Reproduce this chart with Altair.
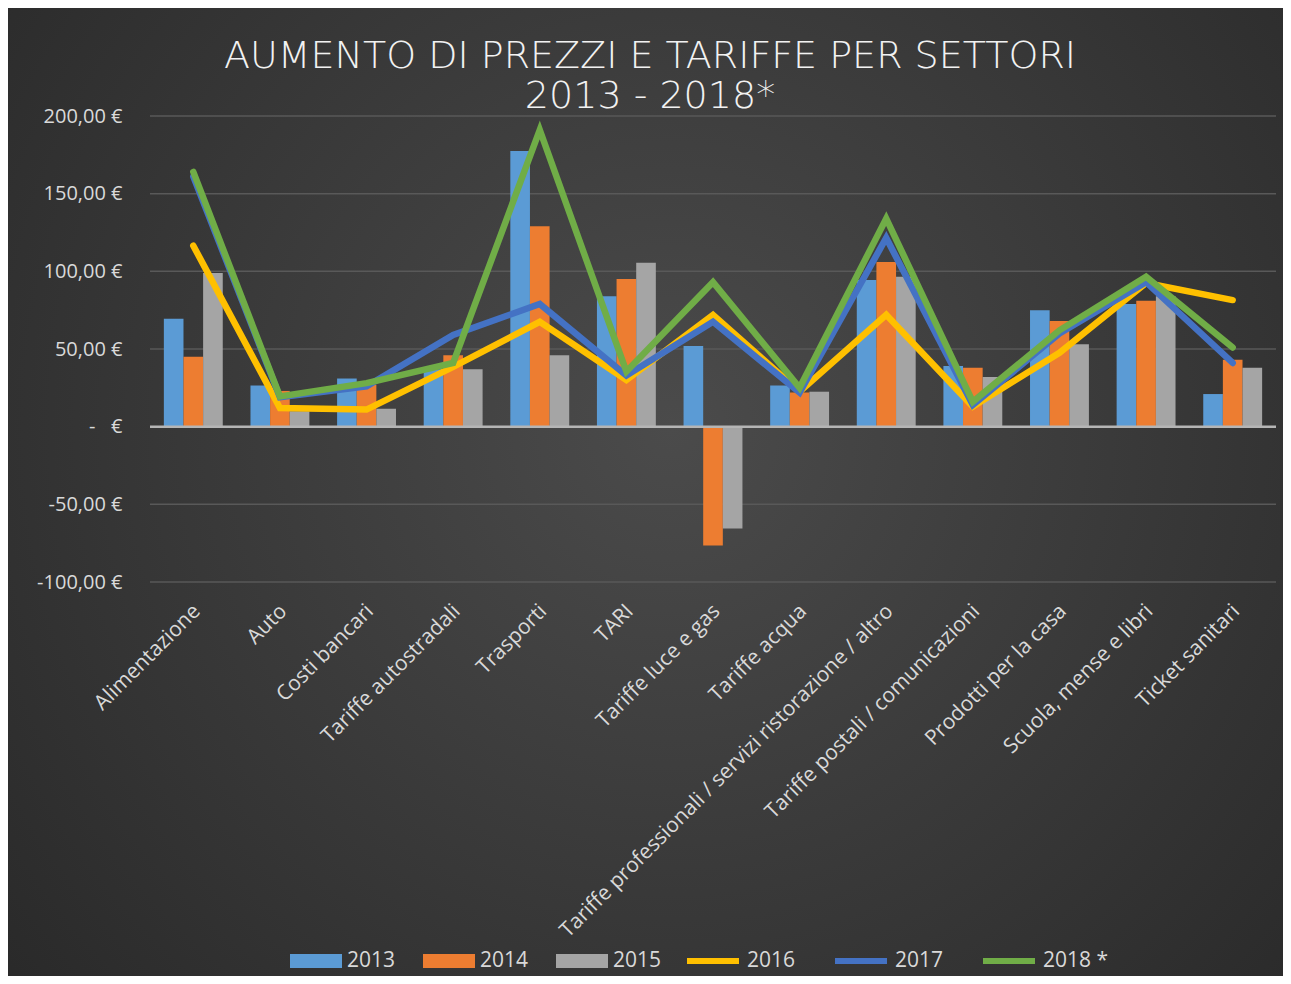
import altair as alt
import pandas as pd

categories = [
    "Alimentazione", "Auto", "Costi bancari", "Tariffe autostradali", "Trasporti",
    "TARI", "Tariffe luce e gas", "Tariffe acqua",
    "Tariffe professionali / servizi ristorazione / altro",
    "Tariffe postali / comunicazioni", "Prodotti per la casa",
    "Scuola, mense e libri", "Ticket sanitari",
]
v2013 = [69.5, 26.5, 31, 37, 177.5, 84, 52, 26.5, 94.5, 39, 75, 79, 21]
v2014 = [45, 23, 27, 46, 129, 95, -76.5, 22, 106, 38, 68, 81, 43]
v2015 = [99, 10, 11.5, 37, 46, 105.5, -65.5, 22.5, 96.5, 32, 53, 84, 38]
v2016 = [116.5, 12, 11, 38.5, 67.5, 30, 72, 22.5, 72, 13, 47.5, 92.5, 81.5]
v2017 = [161, 19, 26, 59, 79, 33, 67.5, 22, 121.5, 14, 60, 93, 41]
v2018 = [164, 19.5, 28, 41, 191, 35.5, 93, 25, 134, 16, 62, 96.5, 51]

bar_series = ["2013", "2014", "2015"]
line_series = ["2016", "2017", "2018 *"]
bar_colors = ["#5B9BD5", "#ED7D31", "#A5A5A5"]
line_colors = ["#FFC000", "#4472C4", "#70AD47"]
y_ticks = [-100, -50, 0, 50, 100, 150, 200]

bars_df = pd.DataFrame(
    [
        {"cat": c, "series": s, "value": v}
        for s, vals in zip(bar_series, [v2013, v2014, v2015])
        for c, v in zip(categories, vals)
    ]
)
lines_df = pd.DataFrame(
    [
        {"cat": c, "series": s, "value": v}
        for s, vals in zip(line_series, [v2016, v2017, v2018])
        for c, v in zip(categories, vals)
    ]
)
grid_df = pd.DataFrame({"value": y_ticks})
zero_df = pd.DataFrame({"value": [0]})

FONT = "Open Sans"
LABEL = "#d9d9d9"

# decorative radial-gradient backdrop (chart background panel)
backdrop = alt.Chart(zero_df).mark_rect(
    color={
        "gradient": "radial",
        "x1": 0.52, "y1": 0.45, "r1": 0,
        "x2": 0.52, "y2": 0.45, "r2": 0.75,
        "stops": [
            {"offset": 0, "color": "#4b4b4b"},
            {"offset": 1, "color": "#262626"},
        ],
    }
).encode(
    x=alt.value(-142), x2=alt.value(1133), y=alt.value(-108), y2=alt.value(860)
)

y_scale = alt.Scale(domain=[-100, 200], nice=False, zero=False)

grid = alt.Chart(grid_df).mark_rule(color="#595959", strokeWidth=1.5).encode(
    y=alt.Y("value:Q", scale=y_scale)
)

x_enc = alt.X(
    "cat:N",
    sort=categories,
    scale=alt.Scale(paddingInner=0.32, paddingOuter=0.16),
    axis=alt.Axis(
        title=None, domain=False, ticks=False, grid=False, labelAngle=-45, labelPadding=18,
        labelOffset=-4, zindex=1,
        labelFontSize=21, labelColor=LABEL, labelFont=FONT, labelLimit=1000,
    ),
)
y_axis = alt.Axis(
    title=None, values=y_ticks, domain=False, ticks=False, grid=False, labelPadding=28,
    labelFontSize=20, labelColor=LABEL, labelFont=FONT, zindex=1,
    labelExpr=(
        "datum.value == 0 ? '-\u00a0\u00a0\u00a0€' : "
        "(datum.value < 0 ? '-' : '') + replace(format(abs(datum.value), '.2f'), '.', ',') + ' €'"
    ),
)

bars = alt.Chart(bars_df).mark_bar().encode(
    x=x_enc,
    xOffset=alt.XOffset("series:N", sort=bar_series, scale=alt.Scale(paddingInner=0, paddingOuter=0)),
    y=alt.Y("value:Q", scale=y_scale, axis=y_axis),
    color=alt.Color(
        "series:N",
        scale=alt.Scale(domain=bar_series, range=bar_colors),
        legend=alt.Legend(
            title=None, orient="none", direction="horizontal", legendX=140, legendY=819,
            symbolType="M-1,-0.27H1V0.27H-1Z", symbolSize=2704, symbolStrokeWidth=0,
            labelFontSize=21, labelColor=LABEL, labelFont=FONT, labelOffset=5,
            columnPadding=27,
        ),
    ),
)

zero = alt.Chart(zero_df).mark_rule(color="#b5b5b5", strokeWidth=2.5).encode(
    y=alt.Y("value:Q", scale=y_scale)
)

lines = alt.Chart(lines_df).mark_line(
    strokeWidth=6.5, strokeCap="round", strokeJoin="miter"
).encode(
    x=alt.X("cat:N", sort=categories),
    y=alt.Y("value:Q", scale=y_scale),
    stroke=alt.Stroke(
        "series:N",
        scale=alt.Scale(domain=line_series, range=line_colors),
        legend=alt.Legend(
            title=None, orient="none", direction="horizontal", legendX=534, legendY=816,
            symbolType="M-1,0H1", symbolSize=2704, symbolStrokeWidth=6,
            labelFontSize=21, labelColor=LABEL, labelFont=FONT, labelOffset=5,
            columnPadding=27,
        ),
    ),
    order=alt.Order("series:N"),
)

chart = (
    alt.layer(backdrop, grid, bars, zero, lines)
    .properties(
        width=1126,
        height=466,
        padding={"left": 142, "top": 108, "right": 7, "bottom": 394},
        autosize=alt.AutoSizeParams(type="none"),
        background="#333333",
        title=alt.TitleParams(
            text=["AUMENTO DI PREZZI E TARIFFE PER SETTORI", "2013 - 2018*"],
            anchor="middle", frame="group", dx=-63, dy=114, offset=6,
            font="DejaVu Sans", fontWeight=200, fontSize=38, color="#f2f2f2",
            lineHeight=40,
        ),
    )
    .configure_view(stroke=None)
)

chart.save("out.html", embed_options={"renderer": "svg", "actions": False})
